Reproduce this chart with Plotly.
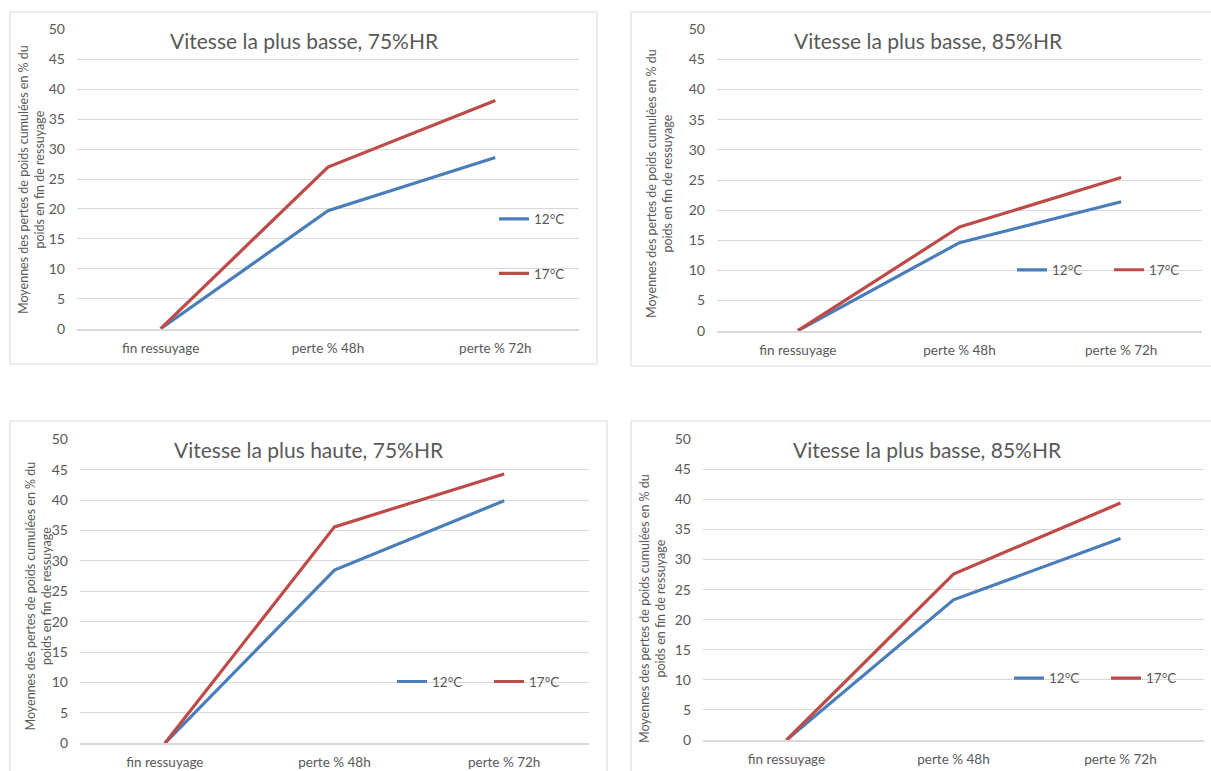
import plotly.graph_objects as go

W, H = 1211, 771

# Data
categories = ["fin ressuyage", "perte % 48h", "perte % 72h"]
series_names = ["12°C", "17°C"]
titles = [
    "Vitesse la plus basse, 75%HR",
    "Vitesse la plus basse, 85%HR",
    "Vitesse la plus haute, 75%HR",
    "Vitesse la plus basse, 85%HR",
]
low_75_12 = [0, 19.7, 28.6]
low_75_17 = [0, 27.0, 38.1]
low_85_12 = [0, 14.6, 21.4]
low_85_17 = [0, 17.2, 25.4]
high_75_12 = [0, 28.5, 39.9]
high_75_17 = [0, 35.6, 44.3]
low_85b_12 = [0, 23.3, 33.5]
low_85b_17 = [0, 27.6, 39.4]
y_tick_values = [0, 5, 10, 15, 20, 25, 30, 35, 40, 45, 50]
y_axis_title = "Moyennes des pertes de poids cumulées en % du<br>poids en fin de ressuyage"

panel_series = [
    (low_75_12, low_75_17),
    (low_85_12, low_85_17),
    (high_75_12, high_75_17),
    (low_85b_12, low_85b_17),
]

BLUE = "#4A7EBB"
RED = "#BE4B48"
TEXT = "#595959"
GRID = "#D9D9D9"
FONT = "Lato"


def px(x):
    return x / W


def py(y):
    return 1 - y / H


# Layout geometry (pixels): plot area box, chart frame, title centre,
# axis-title centre, legend anchor
panels = [
    dict(plot=(77, 29.3, 579, 328.7), frame=(10, 12, 597, 364),
         title=(304, 40), ytitle=(31, 180),
         legend=dict(x=494, y=246.5, orientation="v")),
    dict(plot=(717, 29.3, 1202, 330.7), frame=(631, 12, 1230, 366),
         title=(928, 40), ytitle=(659, 184),
         legend=dict(x=1012, y=270, orientation="h")),
    dict(plot=(80, 439.3, 589, 743.3), frame=(10, 421, 607, 790),
         title=(308.5, 449), ytitle=(37.5, 596),
         legend=dict(x=392, y=681.7, orientation="h")),
    dict(plot=(703, 439.3, 1204, 740), frame=(631, 421, 1230, 790),
         title=(927, 449), ytitle=(652, 609),
         legend=dict(x=1009, y=678.3, orientation="h")),
]

fig = go.Figure()
shapes = []
annotations = []
layout_axes = {}

for i, (panel, (s12, s17)) in enumerate(zip(panels, panel_series)):
    n = i + 1
    xa = "x" if n == 1 else f"x{n}"
    ya = "y" if n == 1 else f"y{n}"
    leg = "legend" if n == 1 else f"legend{n}"

    for name, vals, color in ((series_names[0], s12, BLUE), (series_names[1], s17, RED)):
        fig.add_trace(go.Scatter(
            x=categories, y=vals, name=name, mode="lines",
            line=dict(color=color, width=3.2),
            xaxis=xa, yaxis=ya, legend=leg,
            legendgroup=f"{n}-{name}",
            hoverinfo="skip",
        ))

    x0, y0, x1, y1 = panel["plot"]
    xkey = "xaxis" if n == 1 else f"xaxis{n}"
    ykey = "yaxis" if n == 1 else f"yaxis{n}"
    layout_axes[xkey] = dict(
        domain=[px(x0), px(x1)], anchor=ya, type="category",
        categoryorder="array", categoryarray=categories,
        range=[-0.5, 2.5], showgrid=False, zeroline=False,
        showline=True, linecolor=GRID, linewidth=1.5,
        ticks="", ticklabelstandoff=6, automargin=False,
        tickfont=dict(family=FONT, size=13.5, color=TEXT),
        fixedrange=True,
    )
    layout_axes[ykey] = dict(
        domain=[py(y1), py(y0)], anchor=xa, range=[0, 50],
        tickmode="array", tickvals=y_tick_values,
        showgrid=True, gridcolor=GRID, gridwidth=1, zeroline=False,
        showline=False, ticks="", ticklabelstandoff=11, automargin=False,
        tickfont=dict(family=FONT, size=14, color=TEXT),
        fixedrange=True,
    )

    fx0, fy0, fx1, fy1 = panel["frame"]
    shapes.append(dict(
        type="rect", xref="paper", yref="paper",
        x0=px(fx0), x1=px(fx1), y0=py(fy1), y1=py(fy0),
        line=dict(color=GRID, width=1), fillcolor="rgba(0,0,0,0)", layer="below",
    ))

    tx, ty = panel["title"]
    annotations.append(dict(
        text=titles[i], xref="paper", yref="paper", x=px(tx), y=py(ty),
        xanchor="center", yanchor="middle", showarrow=False,
        font=dict(family=FONT, size=21, color=TEXT),
    ))

    ax_, ay_ = panel["ytitle"]
    annotations.append(dict(
        text=y_axis_title, xref="paper", yref="paper", x=px(ax_), y=py(ay_),
        xanchor="center", yanchor="middle", showarrow=False, textangle=-90,
        font=dict(family=FONT, size=12.5, color=TEXT),
    ))

    lg = panel["legend"]
    legend_cfg = dict(
        x=px(lg["x"]), y=py(lg["y"]), xanchor="left", yanchor="middle",
        orientation=lg["orientation"], bgcolor="rgba(0,0,0,0)",
        borderwidth=0, font=dict(family=FONT, size=13.5, color=TEXT),
        itemclick=False, itemdoubleclick=False,
    )
    if lg["orientation"] == "h":
        legend_cfg.update(entrywidth=52, entrywidthmode="pixels")
    else:
        legend_cfg.update(tracegroupgap=34)
    layout_axes[leg] = legend_cfg

fig.update_layout(
    width=W, height=H, autosize=False,
    margin=dict(l=0, r=0, t=0, b=0, pad=0, autoexpand=False),
    paper_bgcolor="white", plot_bgcolor="white",
    showlegend=True,
    shapes=shapes, annotations=annotations,
    font=dict(family=FONT, color=TEXT),
    **layout_axes,
)

fig.write_html("out.html", config={"displayModeBar": False, "responsive": False})
